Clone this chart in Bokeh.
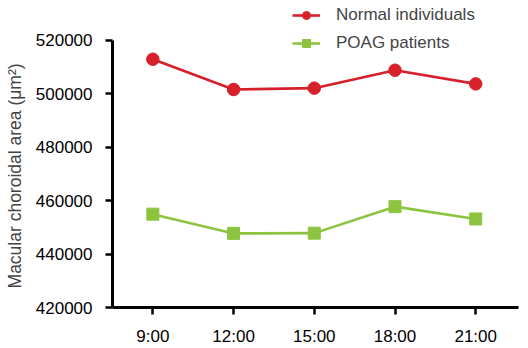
from bokeh.plotting import figure
from bokeh.models import Range1d, FixedTicker, Legend, LegendItem, ColumnDataSource
from bokeh.embed import file_html
from bokeh.resources import INLINE

times = ["9:00", "12:00", "15:00", "18:00", "21:00"]
normal = [512800, 501500, 502000, 508700, 503600]
poag = [454900, 447700, 447800, 457700, 453100]
y_ticks = [420000, 440000, 460000, 480000, 500000, 520000]
y_label = "Macular choroidal area (μm²)"

RED = "#d7202a"
GREEN = "#8cc43f"
FONT = "Liberation Sans"

xpos = list(range(1, len(times) + 1))
src = ColumnDataSource(dict(x=xpos, normal=normal, poag=poag))

p = figure(width=528, height=348, output_backend="svg", toolbar_location=None,
           x_range=Range1d(0.5, 5.53), y_range=Range1d(420000, 532900),
           min_border_left=112, min_border_right=10, min_border_top=5, min_border_bottom=36)
p.outline_line_color = None
p.grid.grid_line_color = None
p.background_fill_color = "white"

ln = p.line("x", "normal", source=src, line_color=RED, line_width=2.6)
mn = p.scatter("x", "normal", source=src, marker="circle", size=12.5, fill_color=RED, line_color=RED)
lp = p.line("x", "poag", source=src, line_color=GREEN, line_width=2.6)
mp = p.scatter("x", "poag", source=src, marker="square", size=12, fill_color=GREEN, line_color=GREEN)

# axes
for ax in (p.xaxis[0], p.yaxis[0]):
    ax.axis_line_width = 3
    ax.major_tick_line_width = 2.5
    ax.major_tick_out = 7
    ax.major_tick_in = 0
    ax.minor_tick_line_color = None
    ax.major_label_text_font = FONT
    ax.major_label_text_font_size = "17px"
    ax.major_label_text_color = "black"
    ax.axis_line_color = "black"
    ax.major_tick_line_color = "black"

p.xaxis.ticker = FixedTicker(ticks=xpos)
p.xaxis.major_label_overrides = {i: t for i, t in zip(xpos, times)}
p.xaxis.major_label_standoff = 12

p.yaxis.ticker = FixedTicker(ticks=y_ticks)
p.yaxis.bounds = (420000, 520000)
p.yaxis.formatter.use_scientific = False
p.yaxis.major_label_standoff = 13
# trailing no-break spaces shift the centred label down toward the axis' own span
p.yaxis.axis_label = y_label + "\u00a0" * 8
p.yaxis.axis_label_text_font = FONT
p.yaxis.axis_label_text_font_size = "17.5px"
p.yaxis.axis_label_text_font_style = "normal"
p.yaxis.axis_label_standoff = 8

legend = Legend(items=[LegendItem(label="Normal individuals", renderers=[ln, mn]),
                       LegendItem(label="POAG patients", renderers=[lp, mp])],
                location=(180, 254), padding=0, margin=0, spacing=8,
                glyph_width=28, glyph_height=20, label_standoff=16,
                label_text_font=FONT, label_text_font_size="17px",
                border_line_color=None, background_fill_alpha=0)
p.add_layout(legend)

open("out.html", "w").write(file_html(p, INLINE))
